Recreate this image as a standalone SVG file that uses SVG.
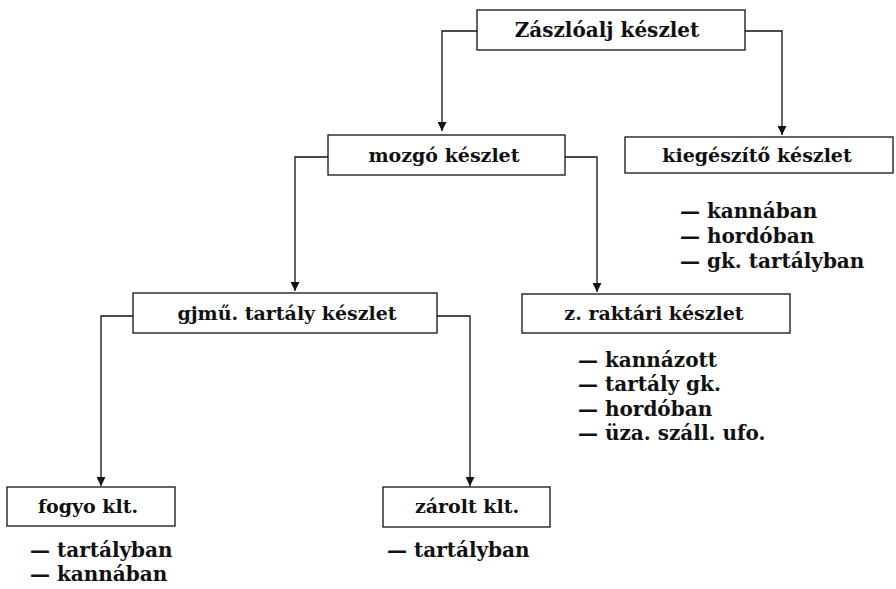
<svg xmlns="http://www.w3.org/2000/svg" width="896" height="589" viewBox="0 0 896 589">
<style>
.box{fill:#fff;stroke:#111;stroke-width:1.3}
.lbl{font-family:"DejaVu Serif","Liberation Serif",serif;font-size:19px;font-weight:bold;fill:#111;text-anchor:middle}
.item{font-family:"DejaVu Serif","Liberation Serif",serif;font-size:20px;font-weight:bold;fill:#111}
.con{fill:none;stroke:#111;stroke-width:1.3}
</style>
<defs>
<marker id="arr" viewBox="0 0 10 10" refX="10" refY="5" markerWidth="9" markerHeight="9" markerUnits="userSpaceOnUse" orient="auto">
<path d="M0,0 L10,5 L0,10 Z" fill="#111"/>
</marker>
</defs>
<rect width="896" height="589" fill="#fff"/>
<g id="connectors">
<path class="con" d="M477,31 H442 V131" marker-end="url(#arr)"/>
<path class="con" d="M745,31 H782 V135" marker-end="url(#arr)"/>
<path class="con" d="M328,157 H295 V291" marker-end="url(#arr)"/>
<path class="con" d="M565,157 H597 V292" marker-end="url(#arr)"/>
<path class="con" d="M133,316 H101 V486" marker-end="url(#arr)"/>
<path class="con" d="M437,316 H470 V486" marker-end="url(#arr)"/>
</g>
<g id="n-zaszloalj">
<rect class="box" x="477" y="10" width="268" height="40"/>
<text class="lbl" x="607" y="37" style="font-size:20px">Zászlóalj készlet</text>
</g>
<g id="n-mozgo">
<rect class="box" x="328" y="135" width="237" height="40"/>
<text class="lbl" x="444" y="162">mozgó készlet</text>
</g>
<g id="n-kiegeszito">
<rect class="box" x="625" y="137" width="268" height="36"/>
<text class="lbl" x="757" y="162">kiegészítő készlet</text>
<text class="item" x="680" y="218">— kannában</text>
<text class="item" x="680" y="243">— hordóban</text>
<text class="item" x="680" y="268">— gk. tartályban</text>
</g>
<g id="n-gjmu">
<rect class="box" x="133" y="293" width="304" height="40"/>
<text class="lbl" x="287" y="320">gjmű. tartály készlet</text>
</g>
<g id="n-zraktari">
<rect class="box" x="522" y="294" width="268" height="39"/>
<text class="lbl" x="654" y="320">z. raktári készlet</text>
<text class="item" x="578" y="367">— kannázott</text>
<text class="item" x="578" y="391">— tartály gk.</text>
<text class="item" x="578" y="416">— hordóban</text>
<text class="item" x="578" y="440">— üza. száll. ufo.</text>
</g>
<g id="n-fogyo">
<rect class="box" x="7" y="487" width="168" height="39"/>
<text class="lbl" x="88" y="513">fogyo klt.</text>
<text class="item" x="30" y="557">— tartályban</text>
<text class="item" x="30" y="581">— kannában</text>
</g>
<g id="n-zarolt">
<rect class="box" x="383" y="487" width="167" height="40"/>
<text class="lbl" x="467" y="513">zárolt klt.</text>
<text class="item" x="387" y="557">— tartályban</text>
</g>
</svg>
